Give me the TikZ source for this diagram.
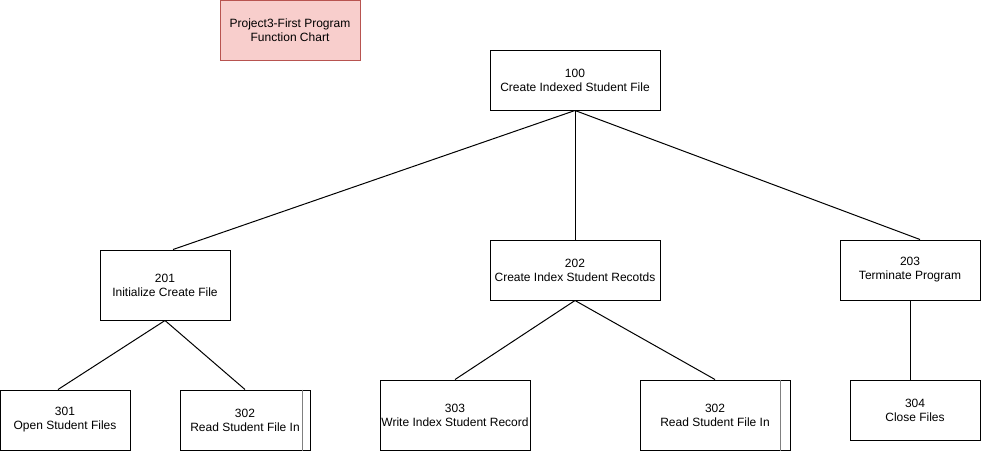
\documentclass[tikz,border=0pt]{standalone}
\usepackage{fontspec}
\setmainfont{Liberation Sans}
\definecolor{titlefill}{HTML}{F8CECC}
\definecolor{titledraw}{HTML}{B85450}

\begin{document}
\begin{tikzpicture}[x=1pt,y=-1pt,
  box/.style={draw,line width=1pt,align=center,inner sep=0pt,font=\fontsize{12}{14}\selectfont}]
  \useasboundingbox (0,0) rectangle (981,453);
  \node[box,minimum width=140,minimum height=60,fill=titlefill,draw=titledraw] (title) at (290,30) {Project3-First Program\\Function Chart};
  \node[box,minimum width=170,minimum height=60] (100) at (575,80) {100\\Create Indexed Student File};
  \node[box,minimum width=130,minimum height=70] (201) at (165,285) {201\\Initialize Create File};
  \node[box,minimum width=170,minimum height=60] (202) at (575,270) {202\\Create Index Student Recotds};
  \node[box,minimum width=140,minimum height=60] (203) at (910,270) {203\\Terminate Program};
  \node[box,minimum width=130,minimum height=60] (301) at (65,420) {301\\Open Student Files};
  \node[box,minimum width=130,minimum height=60] (302a) at (245,420) {302\\Read Student File In};
  \node[box,minimum width=150,minimum height=70] (303) at (455,415) {303\\Write Index Student Record};
  \node[box,minimum width=150,minimum height=70] (302b) at (715,415) {302\\Read Student File In};
  \node[box,minimum width=130,minimum height=60] (304) at (915,410) {304\\Close Files};
  \draw[gray,line width=1pt] ([xshift=-8pt]302a.north east) -- ([xshift=-8pt]302a.south east);
  \draw[gray,line width=1pt] ([xshift=-10pt]302b.north east) -- ([xshift=-10pt]302b.south east);
  \draw[line width=1pt] (100.south) -- ([xshift=8pt]201.north);
  \draw[line width=1pt] (100.south) -- (202.north);
  \draw[line width=1pt] (100.south) -- ([xshift=10pt]203.north);
  \draw[line width=1pt] (201.south) -- ([xshift=-7pt]301.north);
  \draw[line width=1pt] (201.south) -- (302a.north);
  \draw[line width=1pt] (202.south) -- (303.north);
  \draw[line width=1pt] (202.south) -- (302b.north);
  \draw[line width=1pt] (203.south) -- (203.south |- 304.north);
\end{tikzpicture}
\end{document}
